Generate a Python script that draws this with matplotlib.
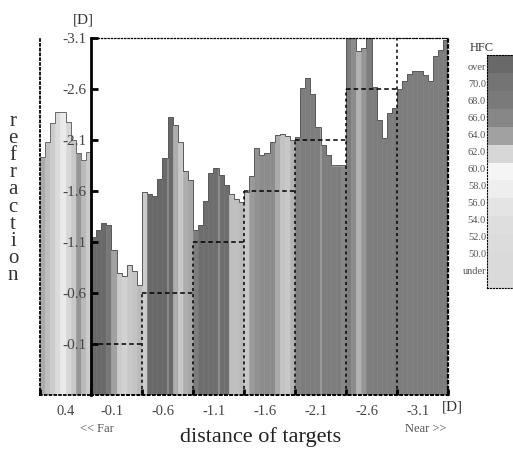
import numpy as np
import matplotlib
matplotlib.use("Agg")
import matplotlib.pyplot as plt
from matplotlib.colors import LinearSegmentedColormap, Normalize

# target distances [D], one group per target
group_labels = ["0.4", "-0.1", "-0.6", "-1.1", "-1.6", "-2.1", "-2.6", "-3.1"]
targets = [-0.1, -0.6, -1.1, -1.6, -2.1, -2.6, -3.1]
ytick_values = [-3.1, -2.6, -2.1, -1.6, -1.1, -0.6, -0.1]

# refraction [D] read across each group (10 samples per group)
refr_p04 = [-1.93, -2.08, -2.27, -2.37, -2.37, -2.28, -2.10, -1.97, -1.90, -1.98]
refr_m01 = [-1.15, -1.22, -1.29, -1.27, -1.02, -0.80, -0.77, -0.87, -0.82, -0.68]
refr_m06 = [-1.59, -1.57, -1.55, -1.72, -1.92, -2.33, -2.25, -2.08, -1.80, -1.71]
refr_m11 = [-1.22, -1.27, -1.50, -1.78, -1.83, -1.76, -1.66, -1.57, -1.52, -1.49]
refr_m16 = [-1.59, -1.75, -2.02, -1.95, -1.97, -2.08, -2.15, -2.16, -2.14, -2.10]
refr_m21 = [-2.13, -2.61, -2.71, -2.55, -2.23, -2.05, -1.95, -1.85, -1.85, -1.85]
refr_m26 = [-3.10, -3.10, -2.97, -3.00, -3.10, -2.62, -2.30, -2.12, -2.36, -2.41]
refr_m31 = [-2.60, -2.68, -2.75, -2.78, -2.78, -2.74, -2.68, -2.92, -2.98, -3.08]

# HFC value of each sample
hfc_p04 = [63.6, 62.9, 62.4, 61.7, 60.7, 62.0, 62.5, 64.8, 63.1, 62.4]
hfc_m01 = [72, 72, 72, 69, 64, 62.4, 62.2, 62.5, 62.7, 63.1]
hfc_m06 = [62.4, 72, 72, 72, 72, 72, 63.5, 62.5, 63.5, 63.8]
hfc_m11 = [67.5, 71, 71, 71, 71, 71, 71, 62.9, 62.9, 63.1]
hfc_m16 = [62.5, 64.4, 65.2, 65.6, 65.6, 65.6, 63.6, 62.7, 62.5, 63.3]
hfc_m21 = [66.8, 67.5, 67.5, 67.5, 67.5, 67.5, 67.5, 67.5, 67.5, 66.0]
hfc_m26 = [67.5, 65.6, 63.3, 64.8, 67.5, 67.5, 67.5, 67.5, 67.5, 67.5]
hfc_m31 = [67.5, 67.5, 67.5, 67.5, 67.5, 67.5, 67.5, 67.5, 67.5, 67.5]

# colour scale legend
hfc_levels = [49, 50, 52, 54, 56, 58, 60, 62, 64, 66, 68, 70, 72]
hfc_names = ["under", "50.0", "52.0", "54.0", "56.0", "58.0", "60.0",
             "62.0", "64.0", "66.0", "68.0", "70.0", "over"]

plt.rcParams['font.family'] = ['Liberation Serif', 'DejaVu Serif']

grays = [218, 218, 220, 222, 228, 238, 245, 215, 160, 135, 122, 116, 105]
lo, hi = hfc_levels[0], hfc_levels[-1]
cmap = LinearSegmentedColormap.from_list(
    "hfc", [((l - lo) / (hi - lo), (g / 255,) * 3) for l, g in zip(hfc_levels, grays)])
norm = Normalize(lo, hi)

W, H = 513, 450
def box(x0, y0, x1, y1):
    return [x0 / W, 1 - y1 / H, (x1 - x0) / W, (y1 - y0) / H]

fig = plt.figure(figsize=(W / 100, H / 100), dpi=100)
ax_l = fig.add_axes(box(40, 38, 91, 395))
ax = fig.add_axes(box(91, 38, 448, 395))
cax = fig.add_axes(box(487, 55, 540, 288))

n = 10
YMIN, YMAX = 0.4, -3.1

def draw_group(a, x0, refr, hfc):
    edges = x0 + np.arange(n) / n
    cols = cmap(norm(hfc))
    a.bar(edges, np.array(refr) - YMIN, bottom=YMIN, width=1 / n, align='edge',
          color=cols, edgecolor=cols, linewidth=0.4)

# left panel (0.4 D)
draw_group(ax_l, 0, refr_p04, hfc_p04)
ax_l.stairs(refr_p04, np.linspace(0, 1, n + 1), baseline=None, color='#6a6a6a', lw=0.7)
ax_l.set_xlim(0, 1)
ax_l.set_ylim(YMIN, YMAX)
ax_l.set_yticks([])
ax_l.set_xticks([0])
ax_l.set_xticklabels([])
ax_l.set_xticks([0.5], [group_labels[0]], minor=True)
ax_l.tick_params(axis='x', which='major', direction='in', length=4, width=2)
ax_l.tick_params(axis='x', which='minor', length=0, pad=7, labelsize=10.5, labelcolor='#444')
for s in ['top', 'right']:
    ax_l.spines[s].set_visible(False)
for s in ['left', 'bottom']:
    ax_l.spines[s].set_linestyle(':')
    ax_l.spines[s].set_linewidth(1.3)

# main panel
main_refr = [refr_m01, refr_m06, refr_m11, refr_m16, refr_m21, refr_m26, refr_m31]
main_hfc = [hfc_m01, hfc_m06, hfc_m11, hfc_m16, hfc_m21, hfc_m26, hfc_m31]
for g, (r, h) in enumerate(zip(main_refr, main_hfc)):
    draw_group(ax, g, r, h)
ax.stairs(np.concatenate(main_refr), np.linspace(0, 7, 7 * n + 1), baseline=None,
          color='#5a5a5a', lw=0.7)

for g, t in enumerate(targets):
    ax.plot([g, g + 1], [t, t], color='k', lw=1.1, dashes=(3, 2))
    if g > 0:
        ax.plot([g, g], [YMIN, t], color='k', lw=1.1, dashes=(2, 2))

ax.set_xlim(0, 7)
ax.set_ylim(YMIN, YMAX)
ax.set_yticks(ytick_values, [f"{v:.1f}" for v in ytick_values])
ax.tick_params(axis='y', direction='in', length=5, width=2, pad=3,
               labelsize=11, labelcolor='#444')
ax.set_xticks(range(8))
ax.set_xticklabels([])
ax.set_xticks(np.arange(7) + 0.42, group_labels[1:], minor=True)
ax.tick_params(axis='x', which='major', direction='in', length=4, width=2)
ax.tick_params(axis='x', which='minor', length=0, pad=7, labelsize=10.5, labelcolor='#444')
ax.spines['left'].set_linewidth(2)
for s, lw in [('top', 0.9), ('right', 1.6), ('bottom', 1.4)]:
    ax.spines[s].set_linestyle(':')
    ax.spines[s].set_linewidth(lw)

# HFC scale
cax.pcolormesh([0, 1], np.arange(len(hfc_levels) + 1),
               np.array(hfc_levels, dtype=float).reshape(-1, 1), cmap=cmap, norm=norm)
cax.set_xticks([])
cax.set_yticks([])
for s in cax.spines.values():
    s.set_linestyle(':')
    s.set_linewidth(0.8)
for name, y in zip(hfc_names[::-1], np.linspace(67, 272, len(hfc_names))):
    fig.text(486 / W, 1 - y / H, name, ha='right', va='center', fontsize=7.5, color='#555')
fig.text(482 / W, 1 - 48 / H, "HFC", ha='center', va='center', fontsize=9, color='#333')

# axis texts
fig.text(83 / W, 1 - 20 / H, "[D]", ha='center', va='center', fontsize=11, color='#333')
fig.text(452 / W, 1 - 407 / H, "[D]", ha='center', va='center', fontsize=11, color='#333')
fig.text(97 / W, 1 - 429 / H, "<< Far", ha='center', va='center', fontsize=9, color='#555')
fig.text(426 / W, 1 - 429 / H, "Near >>", ha='center', va='center', fontsize=9, color='#555')
fig.text(261 / W, 1 - 437 / H, "distance of targets", ha='center', va='center',
         fontsize=16, color='#222')
for ch, y in zip("refraction", np.linspace(121, 276, 10)):
    fig.text(13 / W, 1 - y / H, ch, ha='center', va='center', fontsize=15, color='#333')

fig.savefig("out.png", dpi=100)
